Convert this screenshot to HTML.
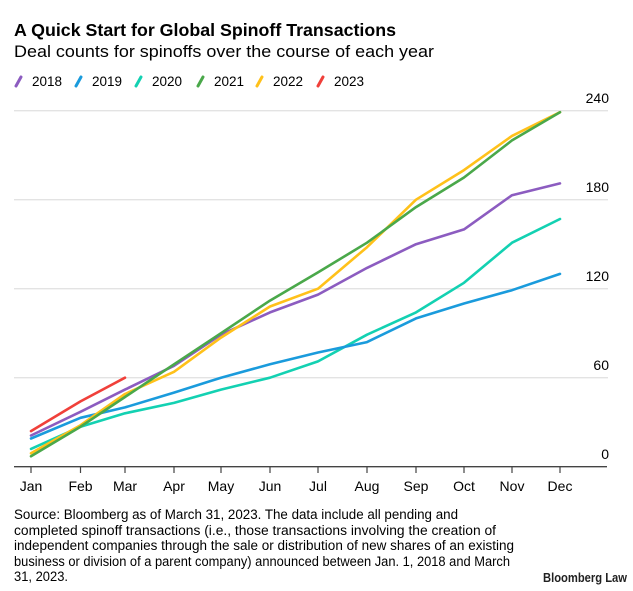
<!DOCTYPE html>
<html><head><meta charset="utf-8"><style>
html,body{margin:0;padding:0;background:#fff;}
svg{display:block;font-family:"Liberation Sans",sans-serif;}
</style></head><body>
<svg width="633" height="591" viewBox="0 0 633 591" xmlns="http://www.w3.org/2000/svg">
<text x="14" y="36" font-size="17.5" font-weight="bold" fill="#000" textLength="382" lengthAdjust="spacingAndGlyphs">A Quick Start for Global Spinoff Transactions</text>
<text x="14" y="57" font-size="16.5" fill="#000" textLength="420" lengthAdjust="spacingAndGlyphs">Deal counts for spinoffs over the course of each year</text>
<g font-size="13.5" fill="#000" stroke-width="3" stroke-linecap="round">
<line x1="16" y1="86" x2="21" y2="77" stroke="#8c5cc0"/><text x="32" y="86">2018</text>
<line x1="76" y1="86" x2="81" y2="77" stroke="#1a9bdc"/><text x="92" y="86">2019</text>
<line x1="136" y1="86" x2="141" y2="77" stroke="#13d1b2"/><text x="152" y="86">2020</text>
<line x1="198" y1="86" x2="203" y2="77" stroke="#4aa84a"/><text x="214" y="86">2021</text>
<line x1="257" y1="86" x2="262" y2="77" stroke="#ffc11a"/><text x="273" y="86">2022</text>
<line x1="318" y1="86" x2="323" y2="77" stroke="#f0403a"/><text x="334" y="86">2023</text>
</g>
<g stroke="#e3e3e3" stroke-width="1.3">
<line x1="14" y1="110.7" x2="608" y2="110.7"/>
<line x1="14" y1="199.7" x2="608" y2="199.7"/>
<line x1="14" y1="288.7" x2="608" y2="288.7"/>
<line x1="14" y1="377.7" x2="608" y2="377.7"/>
</g>
<g font-size="14" fill="#000" text-anchor="end">
<text x="609" y="103">240</text><text x="609" y="192">180</text><text x="609" y="281">120</text><text x="609" y="370">60</text><text x="609" y="459">0</text>
</g>
<line x1="14" y1="466.7" x2="607" y2="466.7" stroke="#444" stroke-width="1.3"/>
<g stroke="#444" stroke-width="1.2">
<line x1="31" y1="467" x2="31" y2="473"/><line x1="80.5" y1="467" x2="80.5" y2="473"/><line x1="125" y1="467" x2="125" y2="473"/><line x1="174" y1="467" x2="174" y2="473"/><line x1="221" y1="467" x2="221" y2="473"/><line x1="270" y1="467" x2="270" y2="473"/><line x1="318" y1="467" x2="318" y2="473"/><line x1="367" y1="467" x2="367" y2="473"/><line x1="416" y1="467" x2="416" y2="473"/><line x1="464" y1="467" x2="464" y2="473"/><line x1="512" y1="467" x2="512" y2="473"/><line x1="560" y1="467" x2="560" y2="473"/>
</g>
<g font-size="14" fill="#000" text-anchor="middle">
<text x="31" y="491">Jan</text><text x="80.5" y="491">Feb</text><text x="125" y="491">Mar</text><text x="174" y="491">Apr</text><text x="221" y="491">May</text><text x="270" y="491">Jun</text><text x="318" y="491">Jul</text><text x="367" y="491">Aug</text><text x="416" y="491">Sep</text><text x="464" y="491">Oct</text><text x="512" y="491">Nov</text><text x="560" y="491">Dec</text>
</g>
<g fill="none" stroke-width="2.6" stroke-linejoin="round" stroke-linecap="round">
<polyline stroke="#13d1b2" points="31,448.9 80.5,426.7 125,413.3 174,402.9 221,389.6 270,377.7 318,361.4 367,334.7 416,312.4 464,282.8 512,242.7 560,219"/>
<polyline stroke="#1a9bdc" points="31,438.5 80.5,417.8 125,407.4 174,392.6 221,377.7 270,364.3 318,352.5 367,342.1 416,318.4 464,303.5 512,290.2 560,273.9"/>
<polyline stroke="#8c5cc0" points="31,435.5 80.5,411.8 125,389.6 174,365.8 221,334.7 270,312.4 318,294.6 367,267.9 416,244.2 464,229.4 512,195.2 560,183.4"/>
<polyline stroke="#ffc11a" points="31,453.3 80.5,425.2 125,394 174,371.8 221,337.6 270,306.5 318,288.7 367,247.2 416,199.7 464,170.1 512,135.9 560,112.2"/>
<polyline stroke="#4aa84a" points="31,456.3 80.5,426.7 125,397 174,364.3 221,333.2 270,300.6 318,272.4 367,242.7 416,207.1 464,177.5 512,140.4 560,112.2"/>
<polyline stroke="#f0403a" points="31,431.1 80.5,401.4 125,377.7"/>
</g>
<g font-size="13.5" fill="#000">
<text x="14" y="519" textLength="444" lengthAdjust="spacingAndGlyphs">Source: Bloomberg as of March 31, 2023. The data include all pending and</text>
<text x="14" y="535" textLength="482" lengthAdjust="spacingAndGlyphs">completed spinoff transactions (i.e., those transactions involving the creation of</text>
<text x="14" y="550" textLength="500" lengthAdjust="spacingAndGlyphs">independent companies through the sale or distribution of new shares of an existing</text>
<text x="14" y="566" textLength="496" lengthAdjust="spacingAndGlyphs">business or division of a parent company) announced between Jan. 1, 2018 and March</text>
<text x="14" y="581" textLength="54" lengthAdjust="spacingAndGlyphs">31, 2023.</text>
<text x="627" y="582" text-anchor="end" font-weight="bold" fill="#222" font-size="12.7" textLength="84" lengthAdjust="spacingAndGlyphs">Bloomberg Law</text>
</g>
</svg>
</body></html>
